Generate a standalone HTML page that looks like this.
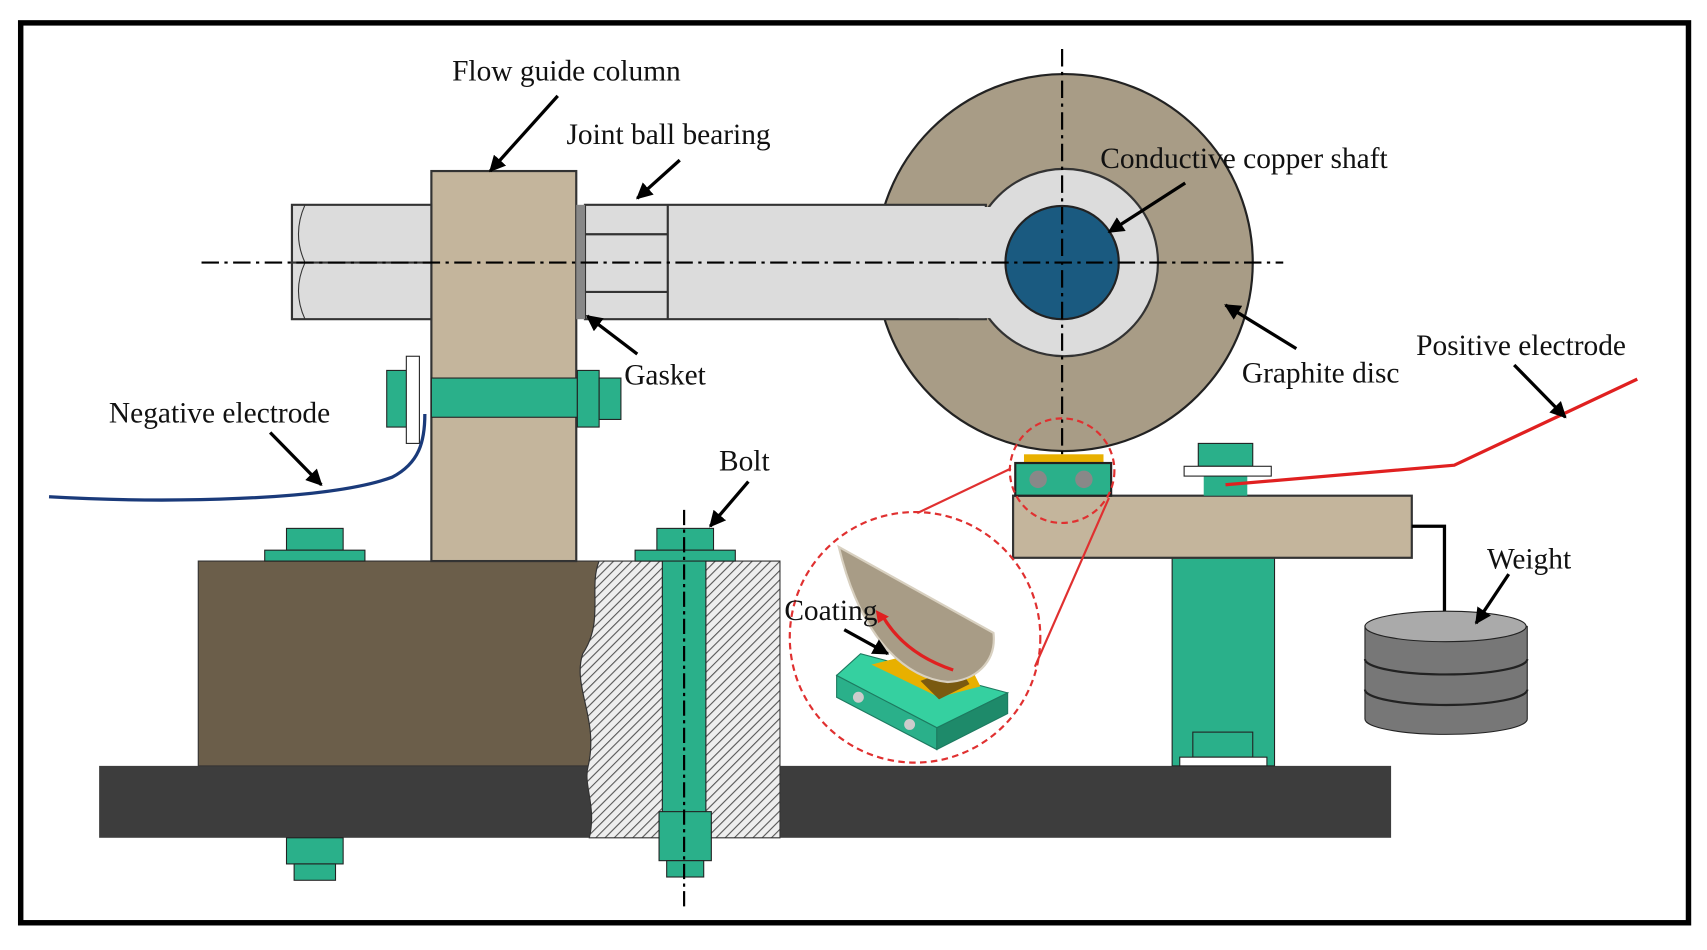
<!DOCTYPE html>
<html><head><meta charset="utf-8"><style>html,body{margin:0;padding:0;background:#fff}svg{display:block}text{font-family:"Liberation Serif",serif;font-size:27px;fill:#111}</style></head><body>
<svg width="1707" height="950" viewBox="0 0 1567 872" preserveAspectRatio="none">
<defs>
<pattern id="h" width="6" height="6" patternUnits="userSpaceOnUse" patternTransform="rotate(45)"><rect width="6" height="6" fill="#eee"/><line x1="0" y1="0" x2="0" y2="6" stroke="#555" stroke-width="2"/></pattern>
<marker id="a" viewBox="0 0 10 10" refX="9" refY="5" markerWidth="5" markerHeight="5" orient="auto"><path d="M0,0L10,5L0,10z" fill="#000"/></marker>
</defs>
<rect x="19" y="21" width="1531" height="826" fill="#fff" stroke="#000" stroke-width="5"/>
<rect x="91" y="703" width="1186" height="66" fill="#3d3d3d"/>
<path d="M182,515H550C540,540 555,570 535,600C525,630 550,660 540,703H182Z" fill="#6b5e4a" stroke="#333"/>
<path d="M550,515H716V769H541C548,740 535,720 540,703C550,660 525,630 535,600C555,570 540,540 550,515Z" fill="url(#h)" stroke="#333"/>
<rect x="608" y="505" width="40" height="245" fill="#2ab08a" stroke="#222"/>
<rect x="603" y="485" width="52" height="20" fill="#2ab08a" stroke="#222"/>
<rect x="583" y="505" width="92" height="10" fill="#2ab08a" stroke="#222"/>
<rect x="605" y="745" width="48" height="45" fill="#2ab08a" stroke="#222"/>
<rect x="612" y="790" width="34" height="15" fill="#2ab08a" stroke="#222"/>
<line x1="628" y1="468" x2="628" y2="835" stroke="#000" stroke-width="2" stroke-dasharray="14,4,3,4"/>
<rect x="263" y="485" width="52" height="20" fill="#2ab08a" stroke="#222"/>
<rect x="243" y="505" width="92" height="10" fill="#2ab08a" stroke="#222"/>
<rect x="263" y="769" width="52" height="24" fill="#2ab08a" stroke="#222"/>
<rect x="270" y="793" width="38" height="15" fill="#2ab08a" stroke="#222"/>
<rect x="396" y="157" width="133" height="358" fill="#c4b59c" stroke="#333" stroke-width="2"/>
<path d="M268,188H396V293H268Z" fill="#dcdcdc" stroke="#333" stroke-width="2"/>
<path d="M280,188Q268,215 280,241Q268,267 280,293" fill="none" stroke="#333"/>
<line x1="268" y1="241" x2="396" y2="241" stroke="#333" stroke-width="2"/>
<circle cx="977" cy="241" r="173" fill="#a89c86" stroke="#222" stroke-width="2"/>
<path d="M537,188H905V293H537Z" fill="#dcdcdc" stroke="#333" stroke-width="2"/>
<circle cx="977" cy="241" r="86" fill="#dcdcdc" stroke="#333" stroke-width="2"/>
<rect x="880" y="190" width="40" height="102" fill="#dcdcdc"/>
<circle cx="975" cy="241" r="52" fill="#1a5a80" stroke="#222" stroke-width="2"/>
<rect x="529" y="188" width="8" height="105" fill="#888"/>
<line x1="537" y1="215" x2="613" y2="215" stroke="#333" stroke-width="2"/>
<line x1="537" y1="268" x2="613" y2="268" stroke="#333" stroke-width="2"/>
<line x1="613" y1="188" x2="613" y2="293" stroke="#333" stroke-width="2"/>
<line x1="185" y1="241" x2="1178" y2="241" stroke="#000" stroke-width="2" stroke-dasharray="16,5,3,5"/>
<line x1="975" y1="45" x2="975" y2="480" stroke="#000" stroke-width="2" stroke-dasharray="16,5,3,5"/>
<rect x="396" y="347" width="134" height="36" fill="#2ab08a" stroke="#222"/>
<rect x="355" y="340" width="26" height="52" fill="#2ab08a" stroke="#222"/>
<rect x="373" y="327" width="12" height="80" fill="#fff" stroke="#222"/>
<rect x="530" y="340" width="20" height="52" fill="#2ab08a" stroke="#222"/>
<rect x="550" y="347" width="20" height="38" fill="#2ab08a" stroke="#222"/>
<path d="M45,456C150,462 300,460 360,438C385,425 390,405 390,380" fill="none" stroke="#1a3a7a" stroke-width="3"/>
<rect x="1076" y="512" width="94" height="191" fill="#2ab08a" stroke="#222"/>
<rect x="1095" y="672" width="55" height="23" fill="#2ab08a" stroke="#222"/>
<rect x="1083" y="695" width="80" height="8" fill="#fff" stroke="#222"/>
<rect x="930" y="455" width="366" height="57" fill="#c4b59c" stroke="#333" stroke-width="2"/>
<rect x="1105" y="437" width="40" height="18" fill="#2ab08a"/>
<rect x="1100" y="407" width="50" height="21" fill="#2ab08a" stroke="#222"/>
<rect x="1087" y="428" width="80" height="9" fill="#fff" stroke="#222"/>
<rect x="940" y="417" width="73" height="9" fill="#e8b000"/>
<rect x="932" y="425" width="88" height="30" fill="#2ab08a" stroke="#222" stroke-width="2"/>
<circle cx="953" cy="440" r="8" fill="#888"/><circle cx="995" cy="440" r="8" fill="#888"/>
<path d="M1125,445L1335,427L1503,348" fill="none" stroke="#e02020" stroke-width="3"/>
<path d="M1296,483H1326V570" fill="none" stroke="#000" stroke-width="3"/>
<path d="M1253,575V660A74,14 0 0 0 1402,660V575Z" fill="#777" stroke="#222"/>
<path d="M1253,605A74,14 0 0 0 1402,605M1253,633A74,14 0 0 0 1402,633" fill="none" stroke="#222" stroke-width="2"/>
<ellipse cx="1327" cy="575" rx="74" ry="14" fill="#aaa" stroke="#222"/>
<circle cx="975" cy="432" r="48" fill="none" stroke="#e03030" stroke-width="2" stroke-dasharray="6,4"/>
<circle cx="840" cy="585" r="115" fill="none" stroke="#e03030" stroke-width="2" stroke-dasharray="6,4"/>
<line x1="842" y1="471" x2="928" y2="430" stroke="#e03030" stroke-width="2"/>
<line x1="950" y1="612" x2="1018" y2="457" stroke="#e03030" stroke-width="2"/>
<!-- inset block -->
<path d="M768,620L790,600L925,636L860,668Z" fill="#35d0a0" stroke="#1d7a60"/>
<path d="M768,620L860,668V688L768,640Z" fill="#2ab08a" stroke="#1d7a60"/>
<path d="M860,668L925,636V655L860,688Z" fill="#1e8a6a" stroke="#1d7a60"/>
<path d="M800,610L880,590L900,630L862,640Z" fill="#e8b000"/>
<path d="M845,625L862,642L890,628L880,612Z" fill="#7a5a10"/>
<path d="M770,502L912,581C915,608 895,625 870,626C830,622 790,585 770,502Z" fill="#a89c86" stroke="#d8d0c0" stroke-width="2"/>
<path d="M875,615Q830,600 810,565" fill="none" stroke="#e02020" stroke-width="3"/>
<path d="M804,560L816,566L806,572Z" fill="#e02020"/>
<circle cx="788" cy="640" r="5" fill="#ccc"/><circle cx="835" cy="665" r="5" fill="#ccc"/>
<text x="415" y="74">Flow guide column</text>
<text x="520" y="132">Joint ball bearing</text>
<text x="1010" y="154">Conductive copper shaft</text>
<text x="573" y="353">Gasket</text>
<text x="1140" y="351">Graphite disc</text>
<text x="1300" y="326">Positive electrode</text>
<text x="100" y="388">Negative electrode</text>
<text x="660" y="432">Bolt</text>
<text x="1365" y="522">Weight</text>
<text x="720" y="569">Coating</text>
<g stroke="#000" stroke-width="3" marker-end="url(#a)">
<line x1="512" y1="88" x2="450" y2="157"/><line x1="624" y1="147" x2="585" y2="182"/>
<line x1="1088" y1="168" x2="1018" y2="213"/><line x1="585" y1="325" x2="539" y2="290"/>
<line x1="1190" y1="320" x2="1125" y2="280"/><line x1="1390" y1="335" x2="1437" y2="383"/>
<line x1="248" y1="397" x2="295" y2="445"/><line x1="687" y1="442" x2="652" y2="483"/>
<line x1="1385" y1="527" x2="1355" y2="572"/><line x1="775" y1="578" x2="815" y2="600"/>
</g>
</svg>
</body></html>
